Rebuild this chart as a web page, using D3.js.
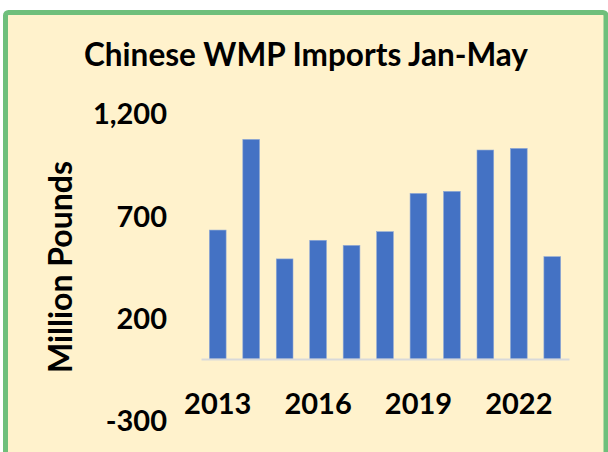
<!DOCTYPE html>
<html>
<head>
<meta charset="utf-8">
<script src="https://cdn.jsdelivr.net/npm/d3@7"></script>
<style>
  body { margin: 0; background: #fff; }
  text { font-family: Lato, "Open Sans", sans-serif; font-weight: bold; fill: #000; }
</style>
</head>
<body>
<svg id="chart" width="608" height="452"></svg>
<script>
const width = 608;
const height = 452;

// data
const years = [2013, 2014, 2015, 2016, 2017, 2018, 2019, 2020, 2021, 2022, 2023];
const imports = [630, 1073, 489, 580, 555, 622, 809, 819, 1021, 1029, 500];
const yTicks = [-300, 200, 700, 1200];
const xLabels = [2013, 2016, 2019, 2022];

const svg = d3.select('#chart');

// panel
svg.append('rect')
    .attr('x', 5.5).attr('y', 12.5)
    .attr('width', 600.5).attr('height', 460)
    .attr('rx', 3)
    .attr('fill', '#fff2cc')
    .attr('stroke', '#6fbf7b')
    .attr('stroke-width', 5);

svg.append('text')
    .attr('x', 306).attr('y', 66)
    .attr('text-anchor', 'middle')
    .style('font-size', '31.5px')
    .text('Chinese WMP Imports Jan-May');

var xScale = d3.scaleBand()
    .domain(years)
    .range([201, 569])
    .paddingInner(0.5)
    .paddingOuter(0.25);

var yScale = d3.scaleLinear()
    .domain([-300, 1200])
    .range([420.4, 113.4]);

// y axis labels, plain hyphen for the minus like the original
const fmt = d => d3.format(',')(d).replace('\u2212', '-');
const gY = svg.append('g')
    .attr('transform', 'translate(172,0)')
    .call(d3.axisLeft(yScale).tickValues(yTicks).tickFormat(fmt).tickSize(0).tickPadding(5));
gY.select('.domain').remove();
gY.selectAll('text').style('font-size', '29px').attr('dy', '0.36em');

svg.append('text')
    .attr('transform', 'translate(72,267) rotate(-90)')
    .attr('text-anchor', 'middle')
    .style('font-size', '32px')
    .text('Million Pounds');

// bars
svg.selectAll('.bar')
    .data(years)
    .enter().append('rect')
    .attr('class', 'bar')
    .attr('x', d => xScale(d))
    .attr('width', xScale.bandwidth())
    .attr('y', (d, i) => yScale(imports[i]))
    .attr('height', (d, i) => yScale(0) - yScale(imports[i]))
    .attr('fill', '#4472c4')
    .attr('stroke', '#8fa9d6')
    .attr('stroke-width', 0.6);

// x axis at zero
const gX = svg.append('g')
    .attr('transform', 'translate(0,' + yScale(0) + ')')
    .call(d3.axisBottom(xScale).tickValues(xLabels).tickSize(0).tickSizeOuter(0).tickPadding(34));
gX.select('.domain').attr('stroke', '#d9d9d9').attr('stroke-width', 2);
gX.selectAll('text').style('font-size', '29px');
</script>
</body>
</html>
